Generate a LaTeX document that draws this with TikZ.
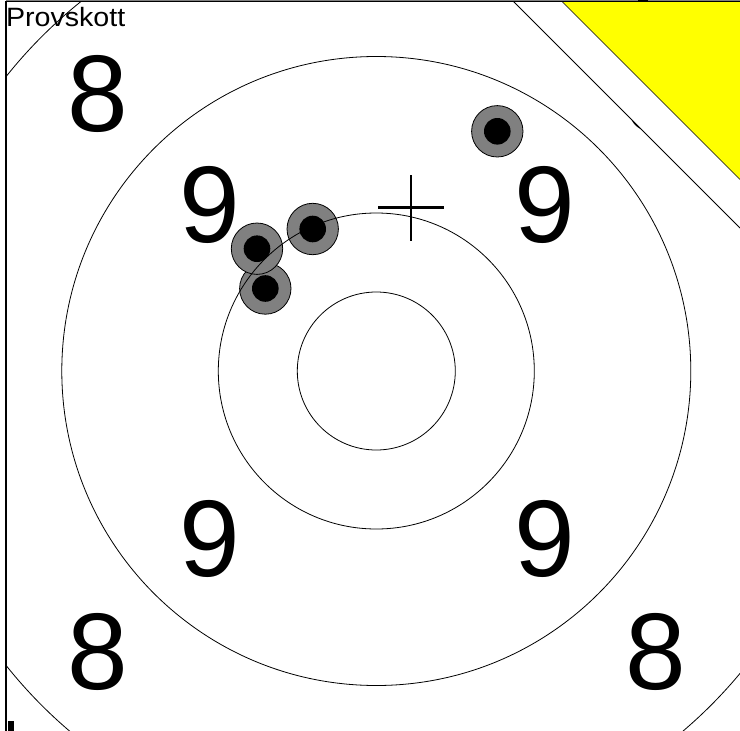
\documentclass[tikz,border=0pt]{standalone}
\usepackage{fontspec}
\setmainfont{Liberation Sans}
\definecolor{shotgray}{RGB}{128,128,128}
\definecolor{markyellow}{RGB}{255,255,0}
\begin{document}
\begin{tikzpicture}[x=1pt,y=-1pt]
\tikzset{
  ringline/.style={draw=black, line width=0.8pt},
  digit/.style={font=\fontsize{109}{109}\selectfont, inner sep=0pt, anchor=center},
  shotring/.style={fill=shotgray, draw=black, line width=0.8pt},
  shotcore/.style={fill=black},
  crossline/.style={draw=black, line width=2.7pt},
  framebar/.style={draw=black, line width=1.6pt},
}
\useasboundingbox (0,0) rectangle (740,731);
\fill[white] (0,0) rectangle (740,731);
\coordinate (ctr) at (376.3,371);

\begin{scope}
\clip (6.5,1.5) rectangle (740,731);
% ring numbers
\node[digit] (e1) at (98,94) {8};
\node[digit] (e2) at (655.5,94) {8};
\node[digit] (e3) at (97.5,651.5) {8};
\node[digit] (e4) at (655.5,651.5) {8};
\node[digit] (n1) at (209.5,204.5) {9};
\node[digit] (n2) at (545,204.5) {9};
\node[digit] (n3) at (209.5,539) {9};
\node[digit] (n4) at (545,539) {9};

% label
\node[anchor=base west, inner sep=0pt, font=\fontsize{26.5}{26.5}\selectfont, xscale=1.08] (lbl) at (5.8,26.6) {Provskott};

% shots
\coordinate (sD) at (265.3,288.5);
\coordinate (sC) at (257,248.7);
\coordinate (sB) at (312.7,229);
\coordinate (sA) at (497.3,131.3);
\foreach \s in {sD,sC,sB,sA}{
  \path[shotring] (\s) circle[radius=25.7pt];
  \path[shotcore] (\s) circle[radius=13.3pt];
}

% rings
\draw[ringline] (ctr) circle[radius=79pt];
\draw[ringline] (ctr) circle[radius=158pt];
\draw[ringline] (ctr) circle[radius=314.5pt];
\draw[ringline] (ctr) circle[radius=473pt];

% group centre cross
\coordinate (xc) at (411,207.5);
\draw[crossline] ([xshift=-33pt]xc) -- ([xshift=33pt]xc);
\draw[crossline] ([yshift=-33pt]xc) -- ([yshift=33pt]xc);

% sighting-shot corner marker
\coordinate (w1) at (513.5,1.5);
\coordinate (w2) at (740,1.5);
\coordinate (w3) at (740,228);
\fill[white] (w1) -- (w2) -- (w3) -- cycle;
\draw[black, line width=0.8pt] (w1) -- (w3);
\coordinate (y1) at (562,1.5);
\coordinate (y3) at (740,179.5);
\fill[markyellow] (y1) -- (w2) -- (y3) -- cycle;
\draw[black, line width=0.6pt] (y1) -- (y3);
\end{scope}

% frame
\coordinate (f0) at (6,731);
\coordinate (f1) at (6,1.3);
\coordinate (f2) at (740,1.3);
\draw[framebar] (f0) -- (f1) -- (f2);
\draw[gray, line width=0.6pt] (6,0.3) -- (740,0.3);
\fill[black] (638,0) rectangle (648,2.3);
\fill[black] (8.3,720.7) rectangle (14,731);
\end{tikzpicture}
\end{document}
